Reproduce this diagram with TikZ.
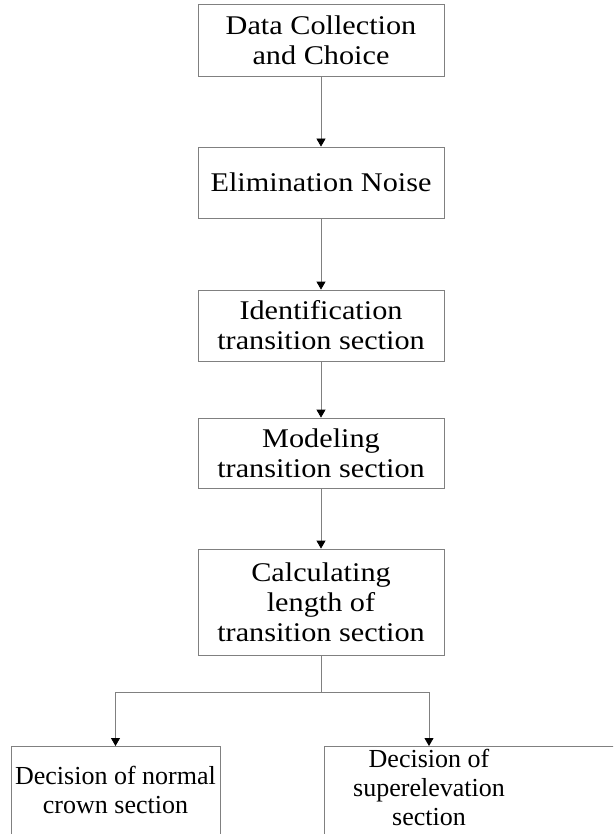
\documentclass[tikz,border=0pt]{standalone}
\usepackage{fontspec}
\setmainfont{Liberation Serif}
\newfontfamily\boxfont[FakeStretch=1.12]{Liberation Serif}
\usetikzlibrary{arrows.meta}
\tikzset{
  stepbox/.style={draw=black!50, line width=0.8pt, minimum width=246pt, align=center,
    font=\boxfont\fontsize{27}{30}\selectfont},
  endbox/.style={draw=black!50, line width=0.8pt, anchor=north west},
  endtext/.style={align=center, anchor=base, font=\fontsize{26}{29}\selectfont},
  wire/.style={draw=black!50, line width=0.8pt},
  link/.style={wire, -{Triangle[width=9pt,length=8pt,black]}},
}
\begin{document}
\begin{tikzpicture}[x=1pt,y=-1pt]
    \useasboundingbox (0,0) rectangle (613,834);
    \clip (0,0) rectangle (613,834);
    %MAIN CHAIN:
     \begin{scope}
     %boxes----------------------------
     \node[stepbox, minimum height=72pt]  (collect) at (321,40)    {Data Collection\\and Choice};
     \node[stepbox, minimum height=71pt]  (noise)   at (321,182.5) {Elimination Noise};
     \node[stepbox, minimum height=71pt]  (ident)   at (321,325.5) {Identification\\transition section};
     \node[stepbox, minimum height=70pt]  (model)   at (321,453)   {Modeling\\transition section};
     \node[stepbox, minimum height=106pt] (calc)    at (321,602)   {Calculating\\length of\\transition section};
     %arrows---------------------------
     \draw[link] (collect) -- (noise);
     \draw[link] (noise) -- (ident);
     \draw[link] (ident) -- (model);
     \draw[link] (model) -- (calc);
     %---------------------------------
     \end{scope}
    %DECISIONS:
     \begin{scope}
     %boxes----------------------------
     \node[endbox, minimum width=209pt, minimum height=120pt] (normalbox) at (11,746) {};
     \node[endtext] (normaldec) at (115.5,813) {Decision of normal\\crown section};
     \node[endbox, minimum width=316pt, minimum height=120pt] (superbox) at (324,746) {};
     \node[endtext] (superdec) at (429,825) {Decision of\\superelevation\\section};
     %branch---------------------------
     \coordinate (split) at (321,692);
     \draw[wire] (calc) -- (split);
     \draw[link] (split) -| (normaldec |- normalbox.north);
     \draw[link] (split) -| (superdec |- superbox.north);
     %---------------------------------
     \end{scope}
    \end{tikzpicture}
\end{document}
